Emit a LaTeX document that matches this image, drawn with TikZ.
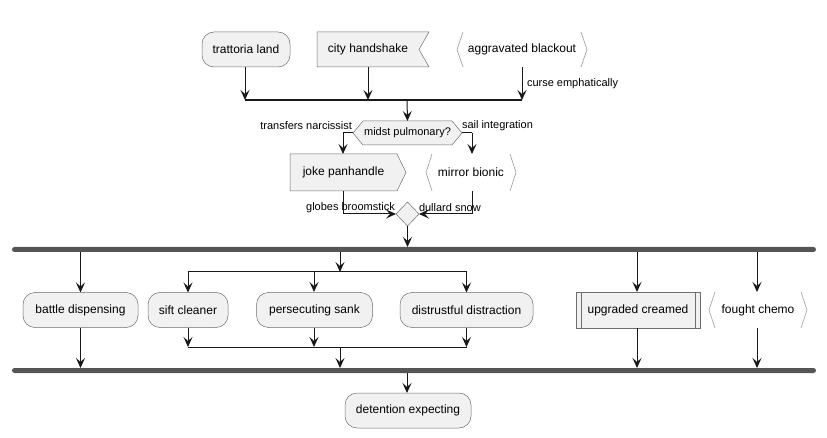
\documentclass[tikz,border=0pt]{standalone}
\usepackage{fontspec}
\setmainfont{Liberation Sans}
\usetikzlibrary{arrows.meta}
\definecolor{boxfill}{HTML}{F1F1F1}
\definecolor{boxline}{HTML}{181818}
\definecolor{edgecol}{HTML}{6E6E6E}
\definecolor{barcol}{HTML}{555555}
\definecolor{brackcol}{HTML}{999999}
\begin{document}
\begin{tikzpicture}[x=1pt,y=-1pt,
  every node/.style={inner sep=0pt,outer sep=0pt,font=\fontsize{12}{14}\selectfont},
  act/.style={draw=edgecol,line width=0.5pt,fill=boxfill,rounded corners=12pt,minimum height=35pt},
  bare/.style={minimum height=35pt},
  shapeline/.style={draw=edgecol,line width=0.5pt,fill=boxfill},
  brack/.style={draw=brackcol,line width=0.6pt},
  lbl/.style={font=\fontsize{11}{13}\selectfont},
  forkbar/.style={fill=barcol,rounded corners=2.5pt,minimum height=5pt,minimum width=804pt},
  arr/.style={draw=boxline,line width=1pt,-{Stealth[length=10pt,width=9pt,inset=4pt]}},
  ln/.style={draw=boxline,line width=1pt},
  mergeln/.style={draw=boxline,line width=1.5pt}]
\useasboundingbox (0,0) rectangle (827,438);

% top row
\node[act,minimum width=88pt] (trat) at (246,49.5) {trattoria land};
\node[bare,minimum width=102pt] (city) at (368,49.5) {city handshake};
\path[shapeline] (city.north west) -- ([xshift=10pt]city.north east) -- (city.east)
  -- ([xshift=10pt]city.south east) -- (city.south west) -- cycle;
\node at (city) {city handshake};
\node[bare,minimum width=130pt] (blk) at (522,49.5) {aggravated blackout};
\draw[brack] ([xshift=6pt]blk.north west) -- (blk.west) -- ([xshift=6pt]blk.south west);
\draw[brack] ([xshift=-6pt]blk.north east) -- (blk.east) -- ([xshift=-6pt]blk.south east);

\coordinate (m1) at (407,100);
\draw[arr] (trat.south -| 245,0) -- (245,100);
\draw[arr] (city.south) -- (city.south |- m1);
\draw[arr] (blk.south) -- (blk.south |- m1);
\draw[mergeln] (245,100) -- (blk.south |- m1);
\node[lbl,anchor=west] (lce) at (527,84) {curse emphatically};

% decision
\node[lbl,minimum width=109pt,minimum height=24pt] (q) at (407.5,133) {};
\path[shapeline] (q.west) -- ([xshift=10pt]q.north west) -- ([xshift=-10pt]q.north east)
  -- (q.east) -- ([xshift=-10pt]q.south east) -- ([xshift=10pt]q.south west) -- cycle;
\node[lbl] at (q) {midst pulmonary?};
\draw[arr] (m1) -- (q.north);

\node[bare,minimum width=107pt,minimum height=37pt] (joke) at (343.5,172.5) {};
\path[shapeline] (joke.north west) -- (joke.north east) -- ([xshift=9pt]joke.east)
  -- (joke.south east) -- (joke.south west) -- cycle;
\node at (joke) {joke panhandle};
\node[bare,minimum width=90pt,minimum height=37pt] (mir) at (471,172.5) {mirror bionic};
\draw[brack] ([xshift=6pt]mir.north west) -- (mir.west) -- ([xshift=6pt]mir.south west);
\draw[brack] ([xshift=-6pt]mir.north east) -- (mir.east) -- ([xshift=-6pt]mir.south east);

\coordinate (jl) at (343,133);
\coordinate (mr) at (472,133);
\draw[ln] (q.west) -- (jl);
\draw[arr] (jl) -- (jl |- joke.north);
\draw[ln] (q.east) -- (mr);
\draw[arr] (mr) -- (mr |- mir.north);
\node[lbl,anchor=east] (ltn) at (352,125.5) {transfers narcissist};
\node[lbl,anchor=west] (lsi) at (462,125.5) {sail integration};

% merge diamond
\node[minimum width=23pt,minimum height=24pt] (d) at (407.5,214) {};
\path[shapeline] (d.north) -- (d.east) -- (d.south) -- (d.west) -- cycle;
\draw[arr] (343,191) |- (d.west);
\draw[arr] (472,191) |- (d.east);
\node[lbl] (lgb) at (350.5,208) {globes broomstick};
\node[lbl,anchor=west] (lds) at (419,208) {dullard snow};

% fork
\node[forkbar] (f1) at (414,249.5) {};
\draw[arr] (d.south) -- (d.south |- f1.north);

\node[act,minimum width=115pt] (bd) at (80.5,310) {battle dispensing};
\node[act,minimum width=80pt] (sc) at (188,310) {sift cleaner};
\node[act,minimum width=116pt] (ps) at (314.5,310) {persecuting sank};
\node[act,minimum width=133pt] (dd) at (466.5,310) {distrustful distraction};
\node[bare,minimum width=124pt,minimum height=36pt] (uc) at (638,310) {};
\path[shapeline] (uc.north west) rectangle (uc.south east);
\draw[draw=edgecol,line width=0.5pt] ([xshift=5pt]uc.north west) -- ([xshift=5pt]uc.south west);
\draw[draw=edgecol,line width=0.5pt] ([xshift=-5pt]uc.north east) -- ([xshift=-5pt]uc.south east);
\node at (uc) {upgraded creamed};
\node[bare,minimum width=98pt,minimum height=36pt] (fc) at (758,310) {fought chemo};
\draw[brack] ([xshift=6pt]fc.north west) -- (fc.west) -- ([xshift=6pt]fc.south west);
\draw[brack] ([xshift=-6pt]fc.north east) -- (fc.east) -- ([xshift=-6pt]fc.south east);

\coordinate (n1) at (340,272);
\coordinate (n2) at (340,347);
\draw[arr] (f1.south -| bd.north) -- (bd.north);
\draw[arr] (f1.south -| n1) -- (n1);
\draw[arr] (f1.south -| 637,0) -- (637,292);
\draw[arr] (f1.south -| 757,0) -- (757,292);
\draw[ln] (n1 -| sc.north) -- (n1 -| dd.north);
\draw[arr] (n1 -| sc.north) -- (sc.north);
\draw[arr] (n1 -| 314,0) -- (314,292);
\draw[arr] (n1 -| dd.north) -- (dd.north);
\draw[arr] (sc.south) -- (sc.south |- n2);
\draw[arr] (314,328) -- (314,347);
\draw[arr] (dd.south) -- (dd.south |- n2);
\draw[ln] (n2 -| sc.south) -- (n2 -| dd.south);

% join
\node[forkbar] (f2) at (414,370.5) {};
\draw[arr] (bd.south) -- (bd.south |- f2.north);
\draw[arr] (n2) -- (n2 |- f2.north);
\draw[arr] (637,328) -- (637,368);
\draw[arr] (757,328) -- (757,368);

\node[act,minimum width=126pt] (det) at (408,410.5) {detention expecting};
\draw[arr] (f2.south -| 407,0) -- (407,393);
\end{tikzpicture}
\end{document}
